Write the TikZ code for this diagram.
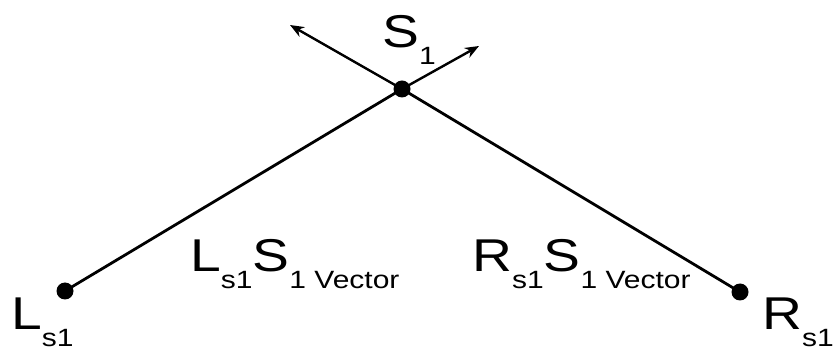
\documentclass[tikz,border=0pt]{standalone}
\usepackage{fontspec}
\setmainfont{Liberation Sans}[FakeStretch=1.2]
\usetikzlibrary{arrows.meta}

\newcommand{\lowsub}[1]{\raisebox{-17pt}{\fontsize{25}{25}\selectfont #1}}

\begin{document}
\begin{tikzpicture}[x=1pt,y=-1pt,
  every node/.style={font=\fontsize{46}{48}\selectfont},
  pt/.style={circle,fill=black,inner sep=0pt,minimum size=17pt},
  lbl/.style={anchor=base west,inner sep=0pt},
  vec/.style={line width=2.8pt},
  ar/.style={-{Stealth[length=14pt,width=11pt]},line width=2.4pt}]
\useasboundingbox (0,0) rectangle (835,352);
\node[pt] (ls) at (65,291) {};
\node[pt] (s) at (402,89) {};
\node[pt] (rs) at (740,292) {};
\coordinate (up-l) at (290,25);
\coordinate (up-r) at (479,46);
\draw[vec] (ls.center) -- (s.center);
\draw[vec] (rs.center) -- (s.center);
\draw[ar] (s.center) -- (up-l);
\draw[ar] (s.center) -- (up-r);
\node[lbl] (t-s) at (382,48) {S\lowsub{1}};
\node[lbl] (t-ls) at (11,330) {L\lowsub{s1}};
\node[lbl] (t-rs) at (762,330) {R\lowsub{s1}};
\node[lbl] (t-lsv) at (190,272) {L\lowsub{s1}S\lowsub{1 Vector}};
\node[lbl] (t-rsv) at (472,272) {R\lowsub{s1}S\lowsub{1 Vector}};
\end{tikzpicture}
\end{document}
